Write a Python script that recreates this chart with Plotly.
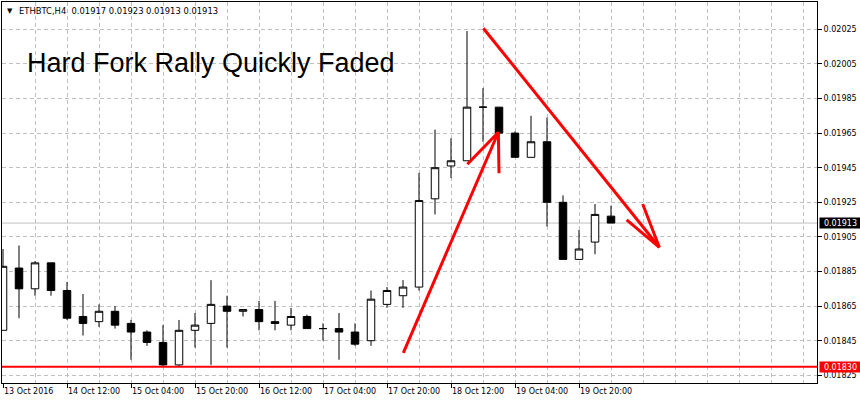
import plotly.graph_objects as go

# ---- data (H4 bars, ETHBTC) ----
bar_index = list(range(39))
opens = [0.01851, 0.01887, 0.01875, 0.01890, 0.01874, 0.01859, 0.01856, 0.01862, 0.01855, 0.01850,
         0.01844, 0.01831, 0.01851, 0.01855, 0.01865, 0.01862, 0.01863, 0.01856, 0.01854, 0.01859,
         0.01852, 0.01852, 0.01850, 0.01845, 0.01866, 0.01871, 0.01876, 0.01927, 0.01946, 0.01949,
         0.01980, 0.01980, 0.01965, 0.01951, 0.01960, 0.01925, 0.01892, 0.01902, 0.01917]
highs = [0.01898, 0.01900, 0.01891, 0.01890, 0.01879, 0.01872, 0.01866, 0.01865, 0.01857, 0.01851,
         0.01854, 0.01857, 0.01861, 0.01880, 0.01871, 0.01863, 0.01868, 0.01868, 0.01864, 0.01860,
         0.01855, 0.01861, 0.01855, 0.01874, 0.01876, 0.01880, 0.01942, 0.01967, 0.01962, 0.02024,
         0.01991, 0.01980, 0.01966, 0.01975, 0.01974, 0.01929, 0.01909, 0.01924, 0.01923]
lows = [0.01851, 0.01858, 0.01871, 0.01871, 0.01857, 0.01848, 0.01853, 0.01852, 0.01834, 0.01842,
        0.01830, 0.01830, 0.01841, 0.01831, 0.01841, 0.01859, 0.01851, 0.01851, 0.01851, 0.01852,
        0.01845, 0.01834, 0.01842, 0.01842, 0.01864, 0.01864, 0.01874, 0.01918, 0.01939, 0.01949,
        0.01960, 0.01964, 0.01951, 0.01951, 0.01911, 0.01892, 0.01892, 0.01895, 0.01913]
closes = [0.01888, 0.01875, 0.01890, 0.01874, 0.01858, 0.01855, 0.01862, 0.01854, 0.01850, 0.01844,
          0.01831, 0.01851, 0.01854, 0.01866, 0.01862, 0.01863, 0.01856, 0.01855, 0.01859, 0.01852,
          0.01852, 0.01850, 0.01843, 0.01869, 0.01874, 0.01876, 0.01926, 0.01945, 0.01949, 0.01980,
          0.01980, 0.01965, 0.01951, 0.01960, 0.01925, 0.01892, 0.01898, 0.01918, 0.01913]

date_tick_index = [0, 4, 8, 12, 16, 20, 24, 28, 32, 36]
date_tick_labels = ["13 Oct 2016", "14 Oct 12:00", "15 Oct 04:00", "15 Oct 20:00", "16 Oct 12:00",
                    "17 Oct 04:00", "17 Oct 20:00", "18 Oct 12:00", "19 Oct 04:00", "19 Oct 20:00"]
price_ticks = [0.01825, 0.01845, 0.01865, 0.01885, 0.01905, 0.01925,
               0.01945, 0.01965, 0.01985, 0.02005, 0.02025]
support_level = 0.01830
last_price = 0.01913

# drawn arrows (bar index, price)
up_arrow_x = [25.02, 30.96, None, 29.02, 30.96, 31.0]
up_arrow_y = [0.01838, 0.019655, None, 0.01947, 0.019655, 0.019418]
down_arrow_x = [30.02, 41.02, None, 38.98, 41.02, 39.98]
down_arrow_y = [0.020256, 0.01899, None, 0.019148, 0.01899, 0.01924]

header = "ETHBTC,H4\u00a0\u00a00.01917 0.01923 0.01913 0.01913"
title_text = "Hard Fork Rally Quickly Faded"

SMALL = "DejaVu Sans, Verdana, sans-serif"
BIG = "Liberation Sans, Arial, sans-serif"
GRID = "#c0c0c0"

fig = go.Figure()

fig.add_trace(go.Candlestick(
    x=bar_index, open=opens, high=highs, low=lows, close=closes,
    increasing=dict(line=dict(color="black", width=1), fillcolor="white"),
    decreasing=dict(line=dict(color="black", width=1), fillcolor="black"),
    whiskerwidth=0, showlegend=False, hoverinfo="skip",
))

fig.add_trace(go.Scatter(x=up_arrow_x, y=up_arrow_y, mode="lines",
                         line=dict(color="#ff0000", width=3), showlegend=False, hoverinfo="skip"))
fig.add_trace(go.Scatter(x=down_arrow_x, y=down_arrow_y, mode="lines",
                         line=dict(color="#ff0000", width=3), showlegend=False, hoverinfo="skip"))

fig.add_hline(y=last_price, line=dict(color=GRID, width=1), layer="below")
fig.add_hline(y=support_level, line=dict(color="#ff0000", width=2))

fig.update_layout(
    width=860, height=405,
    margin=dict(l=2, r=43, t=2, b=22),
    paper_bgcolor="white", plot_bgcolor="white",
    font=dict(family=SMALL, size=8, color="black"),
    boxgap=0.33,
    showlegend=False,
    xaxis=dict(
        range=[-0.0625, 50.875], rangeslider=dict(visible=False),
        tickmode="array", tickvals=date_tick_index, ticktext=date_tick_labels,
        ticks="outside", ticklen=4, tickcolor="black",
        ticklabelposition="outside right",
        showgrid=True, gridcolor=GRID, griddash="4px,3px", gridwidth=1,
        minor=dict(tickvals=list(range(2, 51, 2)), showgrid=True, gridcolor=GRID,
                   griddash="4px,3px", ticks=""),
        showline=True, linecolor="black", linewidth=1, mirror=True,
        zeroline=False, fixedrange=True,
    ),
    yaxis=dict(
        side="right", range=[0.0182055, 0.0204078],
        tickmode="array", tickvals=price_ticks, ticktext=[f"{v:.5f}" for v in price_ticks],
        ticks="outside", ticklen=4, tickcolor="black",
        showgrid=True, gridcolor=GRID, griddash="4px,3px", gridwidth=1,
        showline=True, linecolor="black", linewidth=1, mirror=True,
        zeroline=False, fixedrange=True,
    ),
)

annotations = [
    dict(text="\u25bc", xref="paper", yref="paper", x=(9.5 - 2) / 815, y=(383 - 10.5) / 381,
         xanchor="center", yanchor="middle", showarrow=False, font=dict(size=7, color="black"),
         borderpad=0),
    dict(text=header, xref="paper", yref="paper", x=(18 - 2) / 815, y=(383 - 10.7) / 381,
         xanchor="left", yanchor="middle", showarrow=False, font=dict(size=8.4, color="black"),
         borderpad=0),
    dict(text=title_text, xref="paper", yref="paper", x=(26 - 2) / 815, y=(383 - 63.3) / 381,
         xanchor="left", yanchor="middle", showarrow=False,
         font=dict(family=BIG, size=27, color="black"), borderpad=0),
    dict(text=f"{last_price:.5f}", xref="paper", yref="y", x=1, y=last_price, xshift=2,
         xanchor="left", yanchor="middle", showarrow=False, font=dict(size=8, color="white"),
         bgcolor="black", borderpad=0, width=41, height=10),
    dict(text=f"{support_level:.5f}", xref="paper", yref="y", x=1, y=support_level, xshift=2,
         xanchor="left", yanchor="middle", showarrow=False, font=dict(size=8, color="white"),
         bgcolor="#ff0000", borderpad=0, width=41, height=10),
]
fig.update_layout(annotations=annotations)

fig.write_html("out.html", config={"displayModeBar": False},
               post_script="document.body.style.margin='0';document.body.style.overflow='hidden';")
